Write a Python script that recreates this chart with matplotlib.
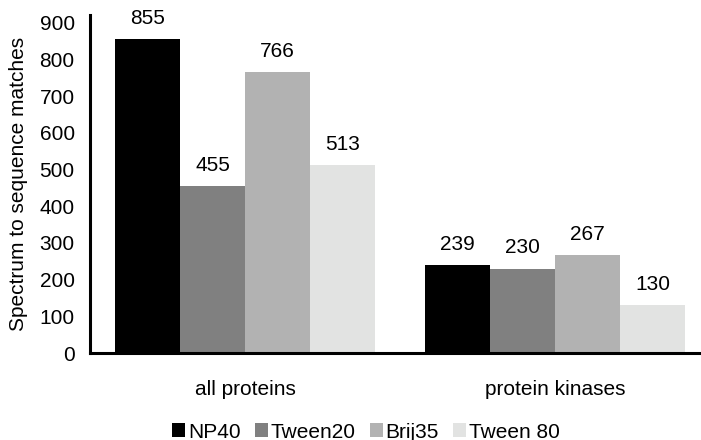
import matplotlib
matplotlib.use("Agg")
import matplotlib.pyplot as plt
import numpy as np

categories = ["all proteins", "protein kinases"]
series = ["NP40", "Tween20", "Brij35", "Tween 80"]
np40 = [855, 239]
tween20 = [455, 230]
brij35 = [766, 267]
tween80 = [513, 130]
colors = ["#000000", "#808080", "#b2b2b2", "#e2e3e2"]
yticks = [0, 100, 200, 300, 400, 500, 600, 700, 800, 900]

plt.rcParams['font.family'] = ['Liberation Sans', 'DejaVu Sans']
FS = 15

W, H = 701, 440
fig = plt.figure(figsize=(W / 100, H / 100), dpi=100)
left, right, bottom, top = 90, 701, 87, 425
ax = fig.add_axes([left / W, bottom / H, (right - left) / W, (top - bottom) / H])

x = np.arange(len(categories))
width = 65 / 310
data = [np40, tween20, brij35, tween80]
for i, (name, vals, c) in enumerate(zip(series, data, colors)):
    pos = x + (i - 1.5) * width
    bars = ax.bar(pos, vals, width, color=c, label=name, linewidth=0)
    for b, v in zip(bars, vals):
        ax.annotate(str(v), (b.get_x() + b.get_width() / 2, v),
                    xytext=(0, 8), textcoords="offset points",
                    ha="center", va="bottom", fontsize=FS)

ax.set_xlim(-0.5, -0.5 + (right - left) / 310)
ax.set_ylim(0, 921)
ax.set_yticks(yticks)
ax.set_yticklabels([str(t) for t in yticks], fontsize=FS)
ax.set_xticks(x)
ax.set_xticklabels(categories, fontsize=FS)
ax.tick_params(axis='y', length=0, pad=11)
ax.tick_params(axis='x', length=0, pad=19.5)
for s in ["top", "right"]:
    ax.spines[s].set_visible(False)
for s in ["left", "bottom"]:
    ax.spines[s].set_linewidth(2.2)
    ax.spines[s].set_color("black")
ax.set_ylabel("Spectrum to sequence matches", fontsize=FS)
ax.yaxis.set_label_coords(-(left - 28) / (right - left), 0.5)

fig.legend(loc="center", bbox_to_anchor=(366 / W, 1 - 432 / H), ncol=4,
           frameon=False, fontsize=FS, handlelength=0.62, handleheight=0.62,
           handletextpad=0.12, columnspacing=0.7, borderaxespad=0)

fig.savefig("out.png", dpi=100)
